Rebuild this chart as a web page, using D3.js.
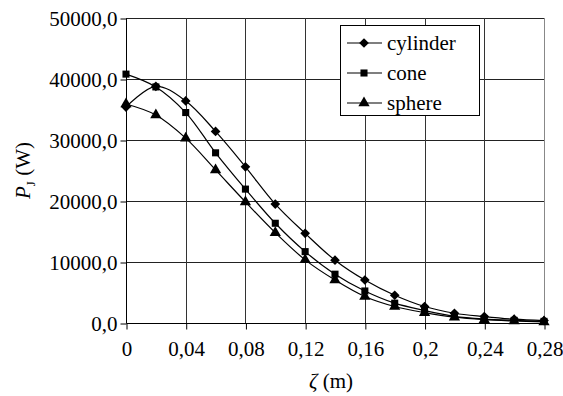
<!DOCTYPE html>
<html>
<head>
    <meta charset="UTF-8">
    <script src="https://d3js.org/d3.v7.min.js"></script>
</head>
<body style="margin:0">
<script>
    const width = 563;
    const height = 396;
    const FONT = "'Liberation Serif', Tinos, 'Times New Roman', serif";

    // data
    const zeta     = [0, 0.02, 0.04, 0.06, 0.08, 0.10, 0.12, 0.14, 0.16, 0.18, 0.20, 0.22, 0.24, 0.26, 0.28];
    const cylinder = [35400, 38800, 36400, 31400, 25600, 19500, 14700, 10300, 7050, 4550, 2700, 1600, 1050, 620, 400];
    const cone     = [40800, 38700, 34500, 27900, 21950, 16350, 11700, 8000, 5250, 3250, 2050, 1100, 650, 430, 270];
    const sphere   = [35900, 34100, 30300, 25100, 19850, 14800, 10350, 7050, 4350, 2700, 1700, 950, 550, 330, 170];

    const seriesNames = ["cylinder", "cone", "sphere"];
    const xTicks = [0, 0.04, 0.08, 0.12, 0.16, 0.20, 0.24, 0.28];
    const yTicks = [0, 10000, 20000, 30000, 40000, 50000];

    const series = [
        {name: seriesNames[0], values: cylinder, symbol: d3.symbolDiamond2, size: 60},
        {name: seriesNames[1], values: cone,     symbol: d3.symbolSquare,   size: 50},
        {name: seriesNames[2], values: sphere,   symbol: d3.symbolTriangle, size: 55}
    ];

    const margin = {left: 126, right: 19, top: 18, bottom: 73};

    const svg = d3.select("body").append("svg")
            .attr("width", width).attr("height", height)
            .attr("font-family", FONT);

    const x = d3.scaleLinear().domain([0, 0.28]).range([margin.left, width - margin.right]);
    const y = d3.scaleLinear().domain([0, 50000]).range([height - margin.bottom, margin.top]);

    // grid
    svg.append("g").selectAll("line.h")
            .data(yTicks.slice(1))
            .join("line")
            .attr("x1", x(0)).attr("x2", x(0.28))
            .attr("y1", d => y(d) + 0.5).attr("y2", d => y(d) + 0.5)
            .style("stroke", "#222").style("stroke-width", 1);

    svg.append("g").selectAll("line.v")
            .data(xTicks.slice(1, -1))
            .join("line")
            .attr("x1", d => Math.round(x(d)) + 0.5).attr("x2", d => Math.round(x(d)) + 0.5)
            .attr("y1", y(50000)).attr("y2", y(0))
            .style("stroke", "#333").style("stroke-width", 1);

    // right border of plot area
    svg.append("line")
            .attr("x1", Math.round(x(0.28)) + 0.5).attr("x2", Math.round(x(0.28)) + 0.5)
            .attr("y1", y(50000)).attr("y2", y(0))
            .style("stroke", "#888");

    // axes
    const fmtY = d => d3.format(".1f")(d).replace(".", ",");
    const fmtX = d => d === 0 ? "0" : String(+d.toFixed(2)).replace(".", ",");

    const yAxis = svg.append("g")
            .attr("transform", "translate(" + (x(0) + 0.5) + ",0.5)")
            .call(d3.axisLeft(y).tickValues(yTicks).tickFormat(fmtY).tickSize(6).tickPadding(3));
    const xAxis = svg.append("g")
            .attr("transform", "translate(0.5," + (y(0) + 0.5) + ")")
            .call(d3.axisBottom(x).tickValues(xTicks).tickFormat(fmtX).tickSize(6).tickPadding(12));

    [yAxis, xAxis].forEach(a => {
        a.attr("font-family", FONT).attr("font-size", 21);
        a.select(".domain").style("stroke", "black");
        a.selectAll(".tick line").style("stroke", "black");
        a.selectAll(".tick text").attr("font-family", FONT).style("fill", "black");
    });
    yAxis.select(".domain").attr("d", "M0," + y(0) + "V" + y(50000));
    xAxis.select(".domain").attr("d", "M" + x(0) + ",0H" + x(0.28));

    // series
    const line = d3.line()
            .x((d, i) => x(zeta[i]))
            .y(d => y(d))
            .curve(d3.curveCatmullRom.alpha(0.5));

    series.forEach(s => {
        svg.append("path")
                .datum(s.values)
                .attr("d", line)
                .style("fill", "none")
                .style("stroke", "black")
                .style("stroke-width", 1.2);

        svg.append("g").selectAll("path")
                .data(s.values)
                .join("path")
                .attr("transform", (d, i) => "translate(" + x(zeta[i]) + "," + y(d) + ")")
                .attr("d", d3.symbol().type(s.symbol).size(s.size))
                .style("fill", "black");
    });

    // legend
    const legend = svg.append("g").attr("transform", "translate(340,25)");
    legend.append("rect")
            .attr("x", 0.5).attr("y", 0.5)
            .attr("width", 139).attr("height", 90)
            .style("fill", "white").style("stroke", "black");

    series.forEach((s, i) => {
        const ly = 18 + i * 30;
        legend.append("line")
                .attr("x1", 7).attr("x2", 42).attr("y1", ly).attr("y2", ly)
                .style("stroke", "black").style("stroke-width", 1.2);
        legend.append("path")
                .attr("transform", "translate(24," + ly + ")")
                .attr("d", d3.symbol().type(s.symbol).size(s.size))
                .style("fill", "black");
        legend.append("text")
                .attr("x", 47).attr("y", ly + 7)
                .attr("font-family", FONT)
                .attr("font-size", 21)
                .text(s.name);
    });

    // axis titles
    svg.append("text")
            .attr("transform", "translate(30," + y(25000) + ") rotate(-90)")
            .attr("text-anchor", "middle")
            .attr("font-family", FONT)
            .attr("font-size", 21)
            .call(t => {
                t.append("tspan").attr("font-style", "italic").text("P");
                t.append("tspan").attr("dy", 5).attr("font-size", 13).text("J");
                t.append("tspan").attr("dy", -5).text(" (W)");
            });

    svg.append("text")
            .attr("x", x(0.14) - 4).attr("y", 388)
            .attr("text-anchor", "middle")
            .attr("font-family", FONT)
            .attr("font-size", 21)
            .call(t => {
                t.append("tspan").attr("font-style", "italic").text("ζ");
                t.append("tspan").text(" (m)");
            });
</script>
</body>
</html>
